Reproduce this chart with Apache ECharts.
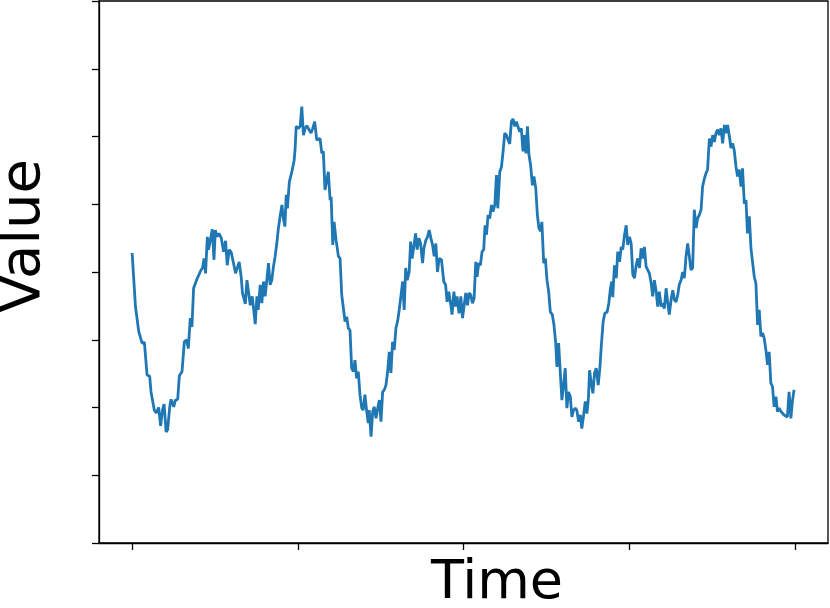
<!DOCTYPE html>
<html>
<head>
<meta charset="utf-8">
<script src="https://cdn.jsdelivr.net/npm/echarts@6/dist/echarts.min.js"></script>
<style>
  html, body { margin: 0; padding: 0; background: #fff; }
  #chart { width: 830px; height: 608px; }
</style>
</head>
<body>
<div id="chart"></div>
<script>
var time = [
  0.00,0.02,0.03,0.04,0.06,0.074,0.09,0.106,0.114,0.124,0.134,0.146,0.16,0.172,0.183,0.193,0.205,0.214,0.227,0.235,
  0.251,0.261,0.275,0.285,0.301,0.315,0.329,0.339,0.351,0.361,0.371,0.392,0.404,0.416,0.425,0.434,0.443,0.454,0.461,0.472,
  0.484,0.494,0.502,0.512,0.524,0.538,0.552,0.564,0.574,0.586,0.598,0.612,0.624,0.636,0.646,0.658,0.666,0.683,0.693,0.705,
  0.713,0.725,0.733,0.743,0.753,0.761,0.773,0.783,0.793,0.803,0.813,0.823,0.833,0.843,0.853,0.863,0.873,0.883,0.893,
  0.904,0.913,0.922,0.93,0.937,0.949,0.964,0.978,0.984,0.99,1.004,1.014,1.024,1.034,1.044,1.054,1.068,1.08,1.09,1.102,
  1.114,1.124,1.134,1.145,1.154,1.164,1.175,1.184,1.195,1.201,1.211,1.219,1.231,1.245,1.255,1.265,1.275,1.285,1.295,1.305,
  1.315,1.325,1.335,1.345,1.355,1.365,1.375,1.386,1.395,1.405,1.416,1.425,1.431,1.442,1.452,1.461,1.472,1.482,1.492,1.502,
  1.512,1.522,1.532,1.542,1.552,1.562,1.572,1.582,1.592,1.602,1.612,1.622,1.633,1.642,1.651,1.66,1.672,1.681,1.69,1.701,
  1.711,1.72,1.731,1.741,1.753,1.761,1.773,1.783,1.793,1.803,1.813,1.823,1.833,1.843,1.853,1.867,
  1.881,1.892,1.901,1.911,1.922,1.931,1.942,1.952,1.961,1.973,1.984,1.994,2.004,2.014,2.024,2.034,2.044,2.054,2.064,2.074,
  2.082,2.092,2.102,2.112,2.122,2.13,2.139,2.148,2.158,2.169,2.178,2.189,2.199,2.207,2.219,2.229,2.239,2.249,2.259,2.269,
  2.279,2.289,2.299,2.309,2.319,2.329,2.339,2.349,2.359,2.369,2.377,2.386,2.395,2.405,2.416,2.425,2.436,2.446,2.455,2.466,
  2.473,2.484,2.494,2.504,2.514,2.524,2.536,2.546,2.556,2.564,2.574,2.584,2.594,2.604,2.614,2.624,2.634,2.645,2.654,2.664,
  2.675,2.684,2.695,2.705,2.714,2.725,2.735,2.745,2.754,2.761,2.771,2.781,2.791,2.801,2.813,2.823,
  2.832,2.843,2.853,2.867,2.877,2.887,2.895,2.901,2.911,2.922,2.931,2.942,2.952,2.961,2.972,2.982,2.991,3.002,3.012,3.022,
  3.032,3.042,3.052,3.062,3.072,3.082,3.092,3.102,3.112,3.122,3.133,3.142,3.152,3.163,3.172,3.182,3.193,3.202,3.212,3.223,
  3.232,3.242,3.253,3.263,3.273,3.283,3.293,3.302,3.313,3.323,3.333,3.343,3.353,3.363,3.373,3.383,3.393,3.404,3.413,3.423,
  3.434,3.443,3.454,3.464,3.473,3.484,3.494,3.504,3.514,3.524,3.534,3.544,3.554,3.564,3.575,3.584,3.594,3.605,3.614,3.624,
  3.634,3.645,3.654,3.664,3.675,3.684,3.695,3.705,3.714,3.725,3.735,3.745,3.755,3.765,3.775,3.785,3.795,3.805,3.815,3.825,
  3.835,3.845,3.855,3.865,3.875,3.886,3.895,3.905,3.916,3.925,3.935,3.946,3.955,3.965,3.976,3.985,3.995
];
var value = [
  4.28,3.49,3.49,3.12,2.95,2.96,2.48,2.46,2.23,2.21,1.96,1.92,2.00,1.73,1.96,2.05,1.64,1.67,2.01,2.12,
  2.01,2.11,2.12,2.47,2.53,2.97,3.00,2.87,3.32,3.19,3.76,3.90,3.92,4.03,4.06,4.20,3.98,4.52,4.33,4.47,
  4.63,4.18,4.62,4.52,4.57,4.50,4.30,4.46,4.10,4.33,4.29,4.13,3.98,3.96,4.15,3.93,3.69,3.53,3.88,3.90,
  3.51,3.64,3.66,3.23,3.64,3.44,3.81,3.54,3.86,3.64,3.66,4.13,3.81,3.88,4.08,4.23,4.42,4.65,4.82,
  4.99,4.79,4.67,5.14,4.94,5.33,5.48,5.65,5.83,6.15,6.12,6.15,6.44,6.02,6.12,6.16,6.10,6.05,6.12,6.22,
  5.95,5.97,5.97,5.75,5.78,5.21,5.21,5.48,5.06,5.11,4.40,4.74,4.47,4.23,4.20,3.66,3.64,3.27,3.34,3.17,
  3.14,2.58,2.53,2.70,2.43,2.53,2.19,1.99,1.96,2.19,1.94,1.77,1.96,1.57,1.94,2.01,1.84,1.99,2.11,1.79,
  2.23,2.26,2.33,2.53,2.82,2.51,2.97,2.85,3.17,3.27,3.44,3.46,3.86,3.44,4.06,3.88,4.00,4.45,4.20,4.20,
  4.57,4.33,4.50,4.42,4.13,4.35,4.47,4.52,4.62,4.50,4.40,4.23,4.42,4.00,4.20,4.18,
  3.86,3.81,3.56,3.71,3.54,3.37,3.71,3.49,3.64,3.39,3.64,3.32,3.51,3.69,3.51,3.69,3.66,3.54,3.61,4.15,
  3.93,4.13,4.10,4.30,4.33,4.69,4.55,4.84,4.79,4.99,4.89,4.99,5.43,4.94,5.48,5.55,5.78,6.05,6.02,6.00,
  5.89,6.22,6.26,6.15,6.22,6.24,6.07,6.12,5.78,6.02,5.75,6.15,5.73,5.58,5.28,5.41,5.24,4.84,4.65,4.60,
  4.74,4.13,4.20,3.88,3.71,3.41,3.37,3.22,2.97,2.60,2.95,2.53,2.11,2.33,2.58,1.99,2.23,2.16,1.86,1.96,
  1.99,1.96,1.79,1.89,1.69,1.89,2.09,1.91,2.14,2.55,2.36,2.21,2.51,2.58,2.33,2.58,
  2.92,3.27,3.39,3.41,3.54,3.76,3.86,3.63,4.10,3.91,4.30,4.15,4.37,4.33,4.55,4.69,4.40,4.52,4.42,3.96,
  3.91,4.10,4.20,4.06,4.35,4.20,4.37,4.08,4.06,3.98,3.83,3.64,3.88,3.71,3.49,3.71,3.49,3.54,3.46,3.76,
  3.56,3.37,3.59,3.73,3.59,3.56,3.66,3.81,3.88,4.00,3.91,4.23,4.42,4.23,4.03,4.06,4.92,4.65,4.79,4.84,
  4.92,5.26,5.38,5.46,5.51,5.97,5.85,6.02,5.92,6.05,6.10,6.02,6.12,5.90,6.17,6.05,6.17,6.00,5.83,5.90,
  5.80,5.55,5.41,5.51,5.26,5.53,5.01,5.06,4.57,4.82,4.35,4.33,3.93,3.83,3.22,3.44,3.05,3.10,3.02,2.85,
  2.63,2.82,2.36,2.31,2.01,2.16,1.94,1.99,1.94,1.94,1.89,1.89,1.86,2.23,1.84,2.09,2.26
];
var xTicks = [0, 1, 2, 3, 4];

var chartDom = document.getElementById('chart');
var myChart = echarts.init(chartDom, null, { renderer: 'canvas' });

var points = [];
for (var i = 0; i < Math.min(time.length, value.length); i++) {
  points.push([time[i], value[i]]);
}

var axisColor = '#000';
var font = '"DejaVu Sans", sans-serif';

var option = {
  animation: false,
  backgroundColor: '#fff',
  grid: {
    left: 99, right: 2, top: 1, bottom: 65,
    show: true,
    borderColor: axisColor,
    borderWidth: 1.3,
    backgroundColor: 'transparent'
  },
  xAxis: {
    type: 'value',
    min: -0.2,
    max: 4.2,
    axisLine: { show: true, onZero: false, lineStyle: { color: axisColor, width: 1.3 } },
    axisTick: { show: true, length: 7, customValues: xTicks, lineStyle: { color: axisColor, width: 1.3 } },
    axisLabel: { show: false },
    splitLine: { show: false }
  },
  yAxis: {
    type: 'value',
    min: 0,
    max: 8,
    interval: 1,
    axisLine: { show: true, onZero: false, lineStyle: { color: axisColor, width: 1.3 } },
    axisTick: { show: true, length: 7, lineStyle: { color: axisColor, width: 1.3 } },
    axisLabel: { show: false },
    splitLine: { show: false }
  },
  graphic: [
    {
      type: 'text',
      x: 497, y: 584,
      style: { text: 'Time', font: '54px ' + font, fill: '#000', textAlign: 'center', textVerticalAlign: 'middle' }
    },
    {
      type: 'text',
      x: 24, y: 236,
      rotation: Math.PI / 2,
      style: { text: 'Value', font: '56px ' + font, fill: '#000', textAlign: 'center', textVerticalAlign: 'middle' }
    }
  ],
  series: [
    {
      type: 'line',
      data: points,
      showSymbol: false,
      lineStyle: { color: '#1f77b4', width: 2.8 },
      itemStyle: { color: '#1f77b4' }
    }
  ]
};

option && myChart.setOption(option);
</script>
</body>
</html>
